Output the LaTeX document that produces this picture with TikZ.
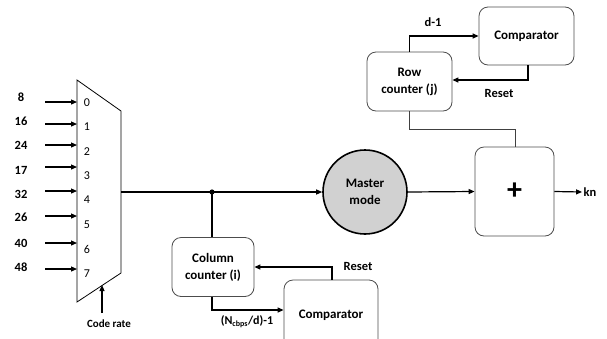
\documentclass[tikz,border=0pt]{standalone}
\usepackage{fontspec}
\setmainfont{Carlito}
\usetikzlibrary{arrows.meta, positioning}

\tikzset{
  blk/.style={draw=black!70, line width=0.8pt, rounded corners=9pt, align=center,
    font=\fontsize{13}{17}\selectfont\bfseries},
  lbl/.style={font=\fontsize{12.5}{14}\selectfont\bfseries, inner sep=1pt},
  sel/.style={font=\fontsize{12}{14}\selectfont, inner sep=1pt},
}

\begin{document}
\begin{tikzpicture}[x=1pt, y=-1pt, line width=1.2pt,
    >={Triangle[length=6pt, width=5pt]}]
  \useasboundingbox (0,0) rectangle (607,338);

  % multiplexer
  \draw[line width=0.8pt] (77,80) -- (121,111) -- (121,273) -- (77,302) -- cycle;
  \coordinate (muxout) at (121,192);
  \coordinate (muxsel) at (102,285);

  \foreach \v/\ly/\ay/\ny [count=\i from 0] in
      {8/97/102/103, 16/121/124/127, 24/145/145/152, 17/170/167/176,
       32/194/191/200, 26/217/216/225, 40/243/243/249, 48/267/269/274} {
    \node[lbl] (in\i) at (21,\ly) {\v};
    \coordinate (src\i) at (45,\ay);
    \coordinate (dst\i) at (77,\ay);
    \draw[->] (src\i) -- (dst\i);
    \node[sel] (sel\i) at (87,\ny) {\i};
  }

  \node[lbl, font=\fontsize{11}{13}\selectfont\bfseries] (rate) at (109,324) {Code rate};
  \coordinate (ratetop) at (102,313);
  \draw[->] (ratetop) -- (muxsel);

  % master mode and adder
  \node[circle, draw, line width=1.6pt, fill=black!18, minimum size=84pt,
        align=center, font=\fontsize{13}{17}\selectfont\bfseries] (master) at (365,192) {Master\\mode};
  \node[blk, minimum width=79pt, minimum height=89pt,
        font=\fontsize{30}{30}\selectfont\bfseries] (plus) at (514.5,191.5) {+};
  \node[lbl] (kn) at (590,192) {kn};

  \coordinate (split) at (212,192);
  \draw (muxout) -- (split);
  \draw[->] (split) -- (master.west);
  \fill (split) circle (2.6pt);
  \draw[->] (master.east) -- (plus.west);
  \draw[->] (plus.east) -- (kn.west);

  % row counter
  \node[blk, minimum width=85pt, minimum height=59pt] (row) at (409.5,81.5) {Row\\counter (j)};
  \node[blk, minimum width=95pt, minimum height=58pt] (cmpa) at (526.5,36) {Comparator};
  \node[lbl] (dm) at (433,22) {d-1};
  \node[lbl] (rsta) at (499,93) {Reset};
  \draw[->] (row.north) |- (cmpa.west);
  \draw[->] (cmpa.south -| 528,0) |- (row.east |- 0,80);
  \draw[line width=0.7pt, draw=black!75] (row.south) |- (515,129) -- (plus.north -| 515,0);

  % column counter
  \node[blk, minimum width=82pt, minimum height=59pt] (col) at (213,267) {Column\\counter (i)};
  \node[blk, minimum width=94pt, minimum height=70pt] (cmpb) at (331,315) {Comparator};
  \node[lbl] (rstb) at (358,266) {Reset};
  \node[lbl, font=\fontsize{12}{14}\selectfont\bfseries] (nc) at (247,322) {(N\textsubscript{cbps}/d)-1};
  \draw (split) -- (col.north -| split);
  \draw[->] (col.south -| 212,0) |- (cmpb.west |- 0,310);
  \draw[->] (cmpb.north -| 332,0) |- (col.east |- 0,267);
\end{tikzpicture}
\end{document}
